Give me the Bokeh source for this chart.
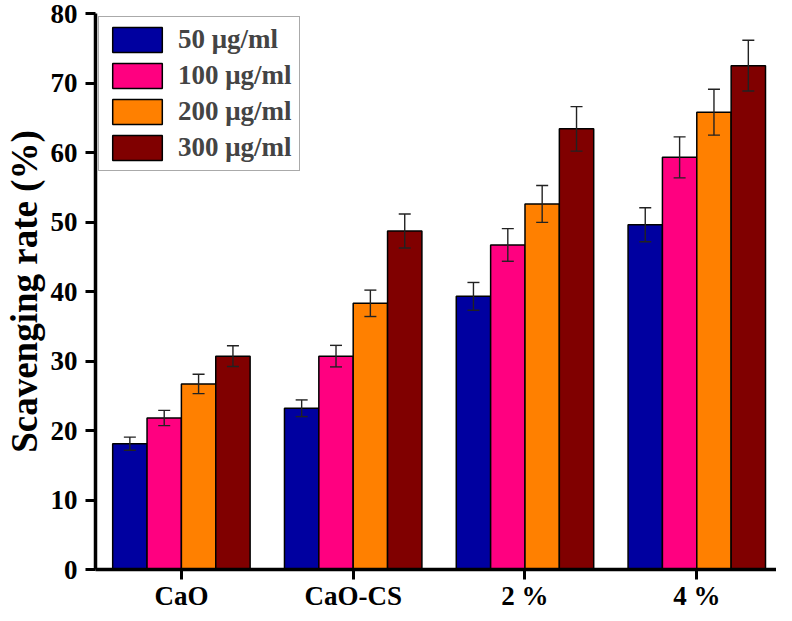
from bokeh.plotting import figure
from bokeh.models import ColumnDataSource, Whisker, TeeHead, FixedTicker, Range1d, Legend, LegendItem
from bokeh.embed import file_html
from bokeh.resources import INLINE

categories = ["CaO", "CaO-CS", "2 %", "4 %"]
series_names = ["50 \u03bcg/ml", "100 \u03bcg/ml", "200 \u03bcg/ml", "300 \u03bcg/ml"]
v50 = [18.1, 23.2, 39.3, 49.6]
v100 = [21.8, 30.7, 46.7, 59.3]
v200 = [26.7, 38.3, 52.6, 65.8]
v300 = [30.7, 48.7, 63.4, 72.5]
e50 = [0.95, 1.2, 2.0, 2.45]
e100 = [1.1, 1.55, 2.35, 2.95]
e200 = [1.4, 1.9, 2.65, 3.3]
e300 = [1.5, 2.45, 3.2, 3.65]
colors = ["#0000A0", "#FF0080", "#FF8000", "#800000"]

FONT = "Liberation Serif"

p = figure(width=776, height=613, output_backend="svg", toolbar_location=None,
           x_range=Range1d(-0.5, 3.464), y_range=Range1d(0, 80),
           min_border_left=89, min_border_right=0, min_border_top=13, min_border_bottom=43)
p.outline_line_color = None
p.xgrid.visible = False
p.ygrid.visible = False

values = [v50, v100, v200, v300]
errors = [e50, e100, e200, e300]
offsets = [-0.3, -0.1, 0.1, 0.3]
items = []
for vals, errs, off, col, name in zip(values, errors, offsets, colors, series_names):
    xs = [i + off for i in range(len(categories))]
    src = ColumnDataSource(dict(x=xs, top=vals,
                                upper=[v + e for v, e in zip(vals, errs)],
                                lower=[v - e for v, e in zip(vals, errs)]))
    r = p.vbar(x="x", top="top", width=0.2, bottom=0, source=src,
               fill_color=col, line_color="black", line_width=1.5)
    items.append(LegendItem(label=name, renderers=[r]))
    w = Whisker(base="x", upper="upper", lower="lower", source=src, level="overlay",
                line_color="#222222", line_width=1.4,
                upper_head=TeeHead(size=12, line_color="#222222", line_width=1.4),
                lower_head=TeeHead(size=12, line_color="#222222", line_width=1.4))
    p.add_layout(w)

legend = Legend(items=items, location="top_left", margin=3, padding=7, spacing=5,
                glyph_width=62, glyph_height=31, label_standoff=10,
                label_text_font=FONT, label_text_font_style="bold",
                label_text_font_size="27px", border_line_color="#555555",
                border_line_width=1.5, background_fill_alpha=1.0)
p.add_layout(legend)

p.xaxis.ticker = FixedTicker(ticks=[0, 1, 2, 3])
p.xaxis.major_label_overrides = {i: c for i, c in enumerate(categories)}
p.yaxis.ticker = FixedTicker(ticks=list(range(0, 81, 10)))

for ax in (p.xaxis, p.yaxis):
    ax.axis_line_width = 3.5
    ax.axis_line_color = "black"
    ax.major_tick_line_width = 3
    ax.major_tick_line_color = "black"
    ax.major_tick_out = 10
    ax.major_tick_in = 0
    ax.minor_tick_line_color = None
    ax.major_label_text_font = FONT
    ax.major_label_text_font_style = "bold"
    ax.major_label_text_font_size = "27px"
    ax.major_label_text_color = "black"

p.xaxis.major_label_standoff = 1
p.yaxis.major_label_standoff = 8
p.yaxis.axis_label = "Scavenging rate (%)"
p.yaxis.axis_label_text_font = FONT
p.yaxis.axis_label_text_font_style = "bold"
p.yaxis.axis_label_text_font_size = "37px"
p.yaxis.axis_label_text_color = "black"
p.yaxis.axis_label_standoff = 3

open("out.html", "w").write(file_html(p, INLINE))
